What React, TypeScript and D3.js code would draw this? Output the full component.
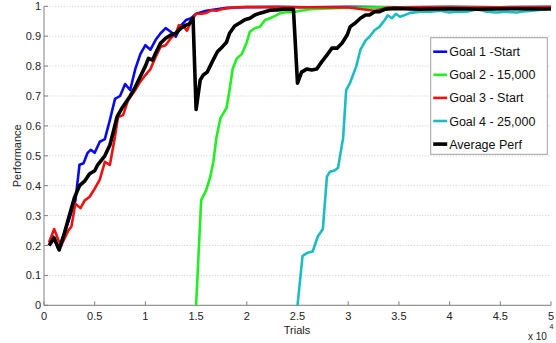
import React from "react";
import * as d3 from "d3";

// Performance curves, x in units of 10^4 trials
const goal1: [number, number][] = [
  [0.05, 0.2], [0.09, 0.23], [0.14, 0.19], [0.2, 0.24], [0.26, 0.3], [0.31, 0.35],
  [0.35, 0.47], [0.39, 0.475], [0.43, 0.51], [0.46, 0.52], [0.5, 0.51], [0.55, 0.547],
  [0.6, 0.556], [0.65, 0.62], [0.7, 0.69], [0.75, 0.7], [0.8, 0.74], [0.85, 0.72],
  [0.9, 0.79], [0.95, 0.84], [1.0, 0.87], [1.05, 0.855], [1.1, 0.887], [1.15, 0.91],
  [1.2, 0.927], [1.25, 0.915], [1.3, 0.898], [1.35, 0.935], [1.4, 0.954], [1.45, 0.96],
  [1.5, 0.975], [1.6, 0.985], [1.7, 0.99], [1.8, 0.995], [2.0, 0.997], [2.3, 0.998],
  [2.6, 0.997], [3.0, 0.998], [3.5, 0.997], [4.0, 0.998], [4.5, 0.997], [5.0, 0.998],
];

const goal2: [number, number][] = [
  [1.5, 0], [1.55, 0.352], [1.6, 0.385], [1.64, 0.43], [1.67, 0.48], [1.7, 0.56],
  [1.74, 0.626], [1.77, 0.643], [1.8, 0.66], [1.83, 0.72], [1.86, 0.79], [1.9, 0.825],
  [1.95, 0.84], [2.0, 0.88], [2.03, 0.915], [2.08, 0.927], [2.13, 0.932], [2.18, 0.954],
  [2.23, 0.96], [2.28, 0.968], [2.33, 0.977], [2.38, 0.98], [2.43, 0.98], [2.48, 0.982],
  [2.52, 0.985], [2.57, 0.987], [2.62, 0.99], [2.8, 0.993], [3.0, 0.995], [3.3, 0.997],
  [3.6, 0.996], [4.0, 0.997], [4.4, 0.996], [4.8, 0.997], [5.0, 0.997],
];

const goal3: [number, number][] = [
  [0.05, 0.21], [0.1, 0.255], [0.14, 0.22], [0.17, 0.2], [0.24, 0.25], [0.27, 0.263],
  [0.31, 0.34], [0.36, 0.325], [0.4, 0.35], [0.45, 0.363], [0.5, 0.39], [0.55, 0.42],
  [0.6, 0.48], [0.65, 0.47], [0.7, 0.564], [0.73, 0.63], [0.78, 0.636], [0.83, 0.687],
  [0.9, 0.72], [0.95, 0.748], [1.0, 0.77], [1.05, 0.79], [1.1, 0.83], [1.15, 0.865],
  [1.2, 0.87], [1.25, 0.893], [1.3, 0.91], [1.33, 0.937], [1.38, 0.932], [1.41, 0.918],
  [1.45, 0.95], [1.5, 0.975], [1.55, 0.975], [1.6, 0.978], [1.65, 0.987], [1.7, 0.985],
  [1.75, 0.99], [1.8, 0.993], [1.9, 0.997], [2.0, 0.998], [2.5, 0.997], [3.0, 0.996],
  [3.26, 0.985], [3.4, 0.996], [3.8, 0.997], [4.2, 0.996], [4.6, 0.997], [5.0, 0.997],
];

const goal4: [number, number][] = [
  [2.5, 0], [2.55, 0.165], [2.6, 0.176], [2.65, 0.18], [2.7, 0.23], [2.75, 0.255],
  [2.79, 0.43], [2.82, 0.447], [2.87, 0.452], [2.9, 0.46], [2.95, 0.56], [2.98, 0.72],
  [3.02, 0.745], [3.08, 0.8], [3.12, 0.854], [3.17, 0.885], [3.21, 0.898], [3.26, 0.92],
  [3.31, 0.932], [3.36, 0.954], [3.39, 0.97], [3.43, 0.96], [3.47, 0.975], [3.51, 0.965],
  [3.56, 0.971], [3.61, 0.978], [3.71, 0.982], [3.81, 0.982], [3.91, 0.985], [4.0, 0.979],
  [4.08, 0.983], [4.17, 0.982], [4.27, 0.99], [4.37, 0.982], [4.46, 0.979], [4.56, 0.982],
  [4.66, 0.979], [4.76, 0.984], [4.86, 0.987], [4.96, 0.99],
];

const average: [number, number][] = [
  [0.05, 0.2], [0.1, 0.225], [0.15, 0.185], [0.2, 0.24], [0.25, 0.3], [0.3, 0.36],
  [0.35, 0.4], [0.4, 0.415], [0.45, 0.44], [0.5, 0.45], [0.53, 0.47], [0.6, 0.5],
  [0.65, 0.536], [0.68, 0.576], [0.72, 0.63], [0.77, 0.66], [0.8, 0.675], [0.85, 0.7],
  [0.9, 0.73], [0.95, 0.765], [1.0, 0.8], [1.03, 0.826], [1.07, 0.82], [1.1, 0.843],
  [1.15, 0.877], [1.2, 0.893], [1.25, 0.904], [1.3, 0.91], [1.35, 0.927], [1.4, 0.937],
  [1.43, 0.94], [1.47, 0.96], [1.5, 0.655], [1.54, 0.753], [1.57, 0.77], [1.61, 0.78],
  [1.66, 0.815], [1.71, 0.848], [1.76, 0.865], [1.8, 0.88], [1.83, 0.91], [1.88, 0.934],
  [1.93, 0.944], [1.98, 0.955], [2.03, 0.96], [2.08, 0.971], [2.13, 0.977], [2.18, 0.982],
  [2.23, 0.987], [2.3, 0.988], [2.36, 0.99], [2.46, 0.99], [2.5, 0.743], [2.54, 0.78],
  [2.59, 0.79], [2.64, 0.787], [2.69, 0.79], [2.74, 0.815], [2.79, 0.837], [2.84, 0.86],
  [2.89, 0.86], [2.94, 0.877], [2.99, 0.904], [3.02, 0.932], [3.07, 0.944], [3.12, 0.96],
  [3.17, 0.971], [3.21, 0.971], [3.26, 0.982], [3.31, 0.982], [3.36, 0.99], [3.46, 0.993],
  [3.7, 0.99], [4.0, 0.992], [4.3, 0.99], [4.6, 0.992], [5.0, 0.991],
];

const seriesNames = ["Goal 1 -Start", "Goal 2 - 15,000", "Goal 3 - Start", "Goal 4 - 25,000", "Average Perf"];
const seriesColors = ["#0a0ae6", "#22ee22", "#ee1111", "#1cbcc4", "#000000"];
const seriesData = [goal1, goal2, goal3, goal4, average];
const seriesWidths = [2.6, 2.6, 2.6, 2.6, 3.6];

const xTicks = [0, 0.5, 1, 1.5, 2, 2.5, 3, 3.5, 4, 4.5, 5];
const yTicks = [0, 0.1, 0.2, 0.3, 0.4, 0.5, 0.6, 0.7, 0.8, 0.9, 1];

const W = 556;
const H = 343;
const left = 44;
const right = 551;
const top = 6.3;
const bottom = 305.3;

export default function App() {
  const x = d3.scaleLinear().domain([0, 5]).range([left, right]);
  const y = d3.scaleLinear().domain([0, 1]).range([bottom, top]);
  const line = d3
    .line<[number, number]>()
    .x((d) => x(d[0]))
    .y((d) => y(d[1]));

  const font = "'Liberation Sans', Arial, sans-serif";
  const legendX = 430.7;
  const legendY = 37.7;
  const legendW = 116.6;
  const legendH = 116.6;
  const rowGap = 23.1;

  return (
    <div style={{ position: "absolute", left: 0, top: 0 }}>
      <svg width={W} height={H} style={{ display: "block", background: "#fff" }}>
        {/* horizontal grid */}
        {yTicks.map((t) => (
          <line
            key={"g" + t}
            x1={left}
            x2={right}
            y1={y(t)}
            y2={y(t)}
            stroke="#c8c8c8"
            strokeWidth={0.8}
            strokeDasharray="1.2,1.6"
          />
        ))}
        {/* axes */}
        <line x1={left} x2={left} y1={top} y2={bottom} stroke="#808080" strokeWidth={1} />
        <line x1={left} x2={right} y1={bottom} y2={bottom} stroke="#808080" strokeWidth={1} />
        {xTicks.map((t) => (
          <g key={"x" + t}>
            <line x1={x(t)} x2={x(t)} y1={bottom} y2={bottom - 4} stroke="#808080" strokeWidth={1} />
            <text x={x(t)} y={319.5} textAnchor="middle" fontFamily={font} fontSize={11} fill="#222">
              {t}
            </text>
          </g>
        ))}
        {yTicks.map((t) => (
          <g key={"y" + t}>
            <line x1={left} x2={left + 4} y1={y(t)} y2={y(t)} stroke="#808080" strokeWidth={1} />
            <text
              x={left - 3}
              y={y(t) + 4}
              textAnchor="end"
              fontFamily={font}
              fontSize={11}
              fill="#222"
            >
              {t}
            </text>
          </g>
        ))}
        <text x={297} y={334} textAnchor="middle" fontFamily={font} fontSize={11} fill="#222">
          Trials
        </text>
        <text
          transform={`translate(21,${(top + bottom) / 2}) rotate(-90)`}
          textAnchor="middle"
          fontFamily={font}
          fontSize={11}
          fill="#222"
        >
          Performance
        </text>
        <text x={528} y={340} fontFamily={font} fontSize={10} fill="#222">
          x 10
        </text>
        <text x={549.5} y={329} fontFamily={font} fontSize={7} fill="#222">
          4
        </text>

        {/* curves */}
        {seriesData.map((d, i) => (
          <path
            key={"s" + i}
            d={line(d) || ""}
            fill="none"
            stroke={seriesColors[i]}
            strokeWidth={seriesWidths[i]}
            strokeLinejoin="round"
          />
        ))}

        {/* legend */}
        <rect
          x={legendX}
          y={legendY}
          width={legendW}
          height={legendH}
          fill="#fff"
          stroke="#a0a0a0"
          strokeWidth={1}
        />
        {seriesNames.map((n, i) => {
          const ry = legendY + 14 + i * rowGap;
          return (
            <g key={"l" + i}>
              <line
                x1={legendX + 2.5}
                x2={legendX + 16.5}
                y1={ry}
                y2={ry}
                stroke={seriesColors[i]}
                strokeWidth={seriesWidths[i]}
              />
              <text x={legendX + 18.5} y={ry + 4.5} fontFamily={font} fontSize={12.5} fill="#111">
                {n}
              </text>
            </g>
          );
        })}
      </svg>
    </div>
  );
}
